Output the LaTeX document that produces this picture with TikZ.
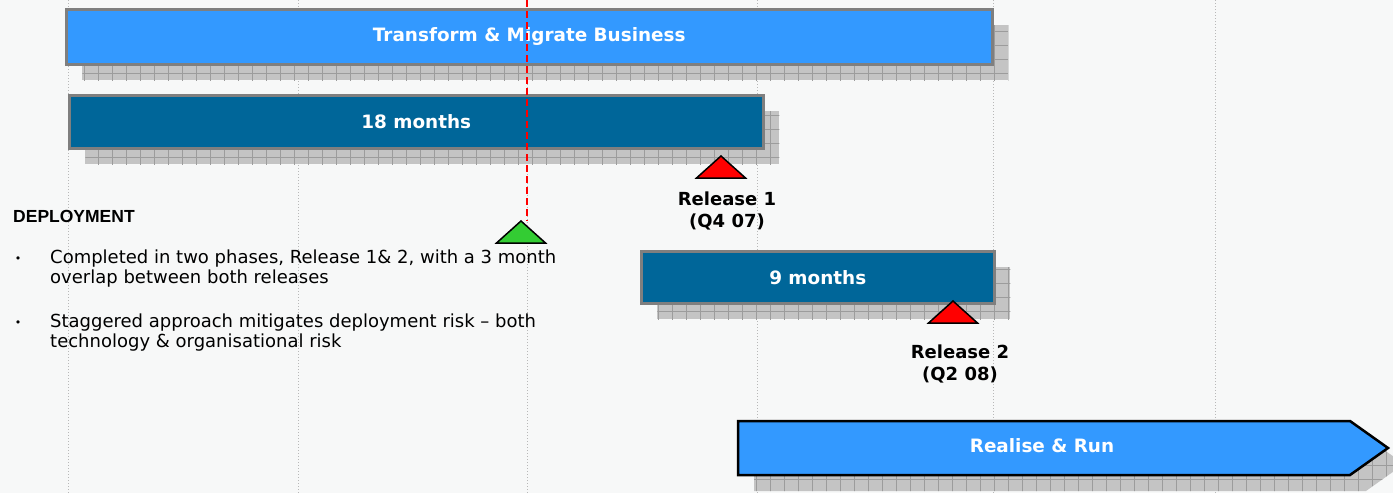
\documentclass[tikz,border=0pt]{standalone}
\usepackage{fontspec}
\setmainfont{DejaVu Sans}
\newfontfamily\headfont{Liberation Sans}
\usetikzlibrary{shadows,patterns.meta}

\definecolor{paper}{HTML}{F7F8F8}
\definecolor{lightbar}{HTML}{3399FF}
\definecolor{darkbar}{HTML}{006699}
\definecolor{barline}{HTML}{7F7F7F}
\definecolor{shadowfill}{HTML}{C4C4C4}
\definecolor{shadowline}{HTML}{9C9C9C}
\definecolor{gridgrey}{HTML}{B8B8B8}
\definecolor{milegreen}{HTML}{33CC33}

\tikzset{
  shade/.style={
    general shadow={shadow xshift=16pt,shadow yshift=-16pt,fill=shadowfill,draw=none},
    general shadow={shadow xshift=16pt,shadow yshift=-16pt,draw=none,
      pattern={Hatch[angle=0,distance=14pt,line width=0.8pt]},pattern color=shadowline}},
  phase/.style={shade,draw=barline,line width=2.5pt,anchor=north west,inner sep=0pt,
    text=white,font=\bfseries\fontsize{18.4}{21}\selectfont},
  gridline/.style={gridgrey,line width=1pt,dash pattern=on 1pt off 2pt},
  nowline/.style={red,line width=1.5pt,dash pattern=on 7pt off 4pt},
  milestone/.style={draw=black,line width=1.5pt,line join=miter},
  relnote/.style={align=center,inner sep=0pt,font=\bfseries\fontsize{18}{21.5}\selectfont},
  bodytext/.style={align=left,anchor=north west,inner sep=0pt,font=\fontsize{18}{20.5}\selectfont},
  dot/.style={inner sep=0pt,font=\fontsize{11}{11}\selectfont}
}

\newcommand\mile[2]{% apex, colour
  \draw[milestone,fill=#2] (#1) -- ++(24.5,22) -- ++(-49,0) -- cycle;}

\begin{document}
\begin{tikzpicture}[x=1pt,y=-1pt]
  \useasboundingbox (0,0) rectangle (1393,493);
  \fill[paper] (0,0) rectangle (1393,493);

  % time grid
  \foreach \gx in {68,298,527,757,993,1215}
    \draw[gridline] (\gx,0) -- (\gx,493);

  % phases
  \node[phase,fill=lightbar,minimum width=926,minimum height=55] (transform) at (65,8)
    {Transform \& Migrate Business};
  \node[phase,fill=darkbar,minimum width=694,minimum height=53] (rel1bar) at (68,94)
    {18 months};
  \node[phase,fill=darkbar,minimum width=353,minimum height=52] (rel2bar) at (640,250)
    {9 months};

  \draw[shade,draw=black,line width=2.5pt,fill=lightbar,line join=miter]
    (738,421) -- (1350,421) -- (1388,448) -- (1350,475) -- (738,475) -- cycle;
  \node[text=white,font=\bfseries\fontsize{18.4}{21}\selectfont] (run) at (1042,446)
    {Realise \& Run};

  % today
  \coordinate (nowtop) at (527,0);
  \coordinate (now) at (527,221);
  \draw[nowline] (nowtop) -- (now);

  % milestones
  \coordinate (m0) at (521,221);
  \coordinate (m1) at (721,156);
  \coordinate (m2) at (953,301);
  \mile{m0}{milegreen}
  \mile{m1}{red}
  \mile{m2}{red}
  \node[relnote] (rel1) at (727,211) {Release 1\\(Q4 07)};
  \node[relnote] (rel2) at (960,364) {Release 2\\(Q2 08)};

  % notes
  \node[anchor=west,inner sep=0pt,font=\headfont\bfseries\fontsize{17.5}{20}\selectfont]
    (deploy) at (13,216) {DEPLOYMENT};
  \node[dot] (d1) at (18,260) {•};
  \node[bodytext] (n1) at (50,249.5)
    {Completed in two phases, Release 1\& 2, with a 3 month\\overlap between both releases};
  \node[dot] (d2) at (18,324) {•};
  \node[bodytext] (n2) at (50,313.5)
    {Staggered approach mitigates deployment risk – both\\technology \& organisational risk};
\end{tikzpicture}
\end{document}
